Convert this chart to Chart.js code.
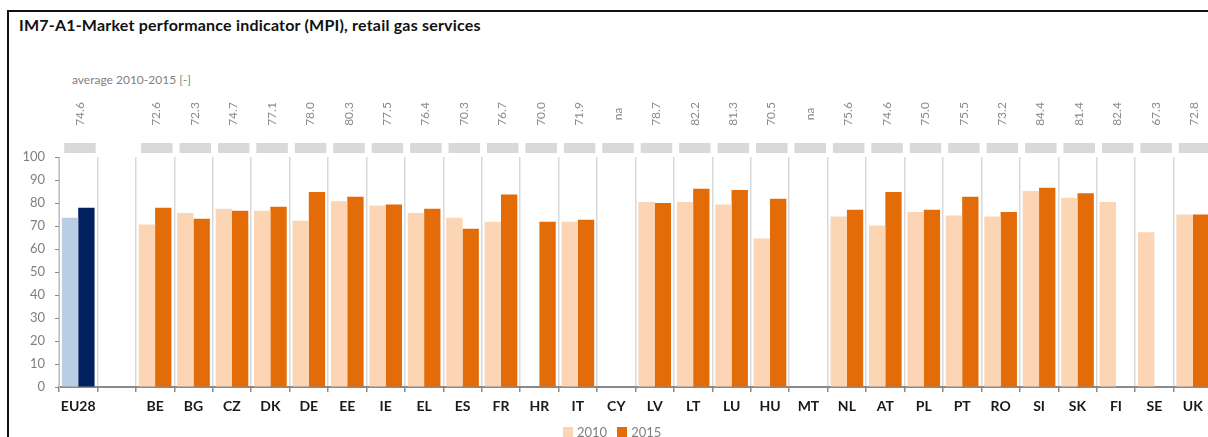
<!DOCTYPE html>
<html>
<head>
<meta charset="utf-8">
<script src="https://cdn.jsdelivr.net/npm/chart.js@4.4.1/dist/chart.umd.min.js"></script>
<style>
  html, body { margin: 0; padding: 0; background: #fff; overflow: hidden; }
  #wrap { position: relative; width: 1216px; height: 437px; }
  #frame { position: absolute; left: 7px; top: 10px; right: 0; bottom: -5px;
           border-left: 2px solid #111; border-top: 2px solid #111; }
  #title { position: absolute; left: 19px; top: 15px; font: bold 16px Lato, sans-serif; letter-spacing: 0.2px; color: #111; white-space: nowrap; }
  #avg { position: absolute; left: 72px; top: 72px; font: 12px Lato, sans-serif; color: #7f7f7f; white-space: nowrap; }
  #legend { position: absolute; left: 563px; top: 424px; font: 13px Lato, sans-serif; color: #7f7f7f; white-space: nowrap; }
  #legend span.box { display: inline-block; width: 10px; height: 10px; margin-right: 4px; }
  canvas { position: absolute; left: 0; top: 0; }
</style>
</head>
<body>
<div id="wrap">
  <div id="frame"></div>
  <div id="title">IM7-A1-Market performance indicator (MPI), retail gas services</div>
  <div id="avg">average 2010-2015 [-]</div>
  <canvas id="mpiChart" width="1216" height="437"></canvas>
  <div id="legend"><span class="box" style="background:#fcd5b5"></span>2010&nbsp;&nbsp;&nbsp;<span class="box" style="background:#e36c09"></span>2015</div>
</div>
<script>
// ---------- DATA ----------
const countries = ["EU28", "", "BE", "BG", "CZ", "DK", "DE", "EE", "IE", "EL", "ES", "FR", "HR", "IT", "CY",
  "LV", "LT", "LU", "HU", "MT", "NL", "AT", "PL", "PT", "RO", "SI", "SK", "FI", "SE", "UK"];
const mpi2010 = [73.6, null, 70.7, 75.6, 77.5, 76.6, 72.3, 80.8, 78.9, 75.6, 73.6, 71.8, null, 71.8, null,
  80.4, 80.4, 79.4, 64.6, null, 74.1, 70.2, 76.1, 74.6, 74.1, 85.2, 82.3, 80.4, 67.3, 75.0];
const mpi2015 = [77.9, null, 77.9, 73.1, 76.6, 78.4, 84.8, 82.7, 79.4, 77.5, 68.8, 83.7, 71.8, 72.7, null,
  80.0, 86.2, 85.6, 81.8, null, 77.1, 84.8, 77.1, 82.7, 76.1, 86.6, 84.2, null, null, 75.0];
const avg2010_2015 = ["74.6", "", "72.6", "72.3", "74.7", "77.1", "78.0", "80.3", "77.5", "76.4", "70.3", "76.7",
  "70.0", "71.9", "na", "78.7", "82.2", "81.3", "70.5", "na", "75.6", "74.6", "75.0", "75.5", "73.2", "84.4",
  "81.4", "82.4", "67.3", "72.8"];
const yTicks = [0, 10, 20, 30, 40, 50, 60, 70, 80, 90, 100];

// EU28 gets blue shades, countries get orange
const col2010 = countries.map(c => c === "EU28" ? "#b9cde5" : "#fcd5b5");
const col2015 = countries.map(c => c === "EU28" ? "#002060" : "#e36c09");

// ---------- AVERAGE ROW (grey boxes + rotated values) ----------
const avgRow = {
  id: "avgRow",
  afterDraw(chart) {
    const { ctx, chartArea, scales: { x } } = chart;
    ctx.save();
    avg2010_2015.forEach((v, i) => {
      if (!v) return;
      const cx = x.getPixelForValue(i);
      ctx.fillStyle = "#d9d9d9";
      ctx.fillRect(cx - 14, chartArea.top - 14, 31.5, 10);
      ctx.save();
      ctx.translate(cx + 1.5, chartArea.top - 43);
      ctx.rotate(-Math.PI / 2);
      ctx.fillStyle = "#8a8a8a";
      ctx.font = "12px Lato";
      ctx.textAlign = "center";
      ctx.textBaseline = "middle";
      ctx.fillText(v, 0, 0);
      ctx.restore();
    });
    ctx.restore();
  }
};

new Chart(document.getElementById("mpiChart"), {
  type: "bar",
  data: {
    labels: countries,
    datasets: [
      { label: "2010", data: mpi2010, backgroundColor: col2010 },
      { label: "2015", data: mpi2015, backgroundColor: col2015 }
    ]
  },
  options: {
    responsive: false,
    animation: false,
    layout: { padding: { top: 157, left: 0, right: 4, bottom: 0 } },
    datasets: { bar: { categoryPercentage: 0.85, barPercentage: 1.0 } },
    scales: {
      x: {
        grid: { offset: true, color: "#d9d9d9", tickColor: "#8a8a8a", tickLength: 5, lineWidth: 1.5 },
        border: { color: "#8a8a8a", width: 2 },
        ticks: { color: "#1a1a1a", font: { family: "Lato", size: 14, weight: "bold" }, padding: 6, maxRotation: 0, autoSkip: false },
        afterFit(scale) { scale.height = 50; }
      },
      y: {
        min: 0, max: 100,
        afterBuildTicks(scale) { scale.ticks = yTicks.map(v => ({ value: v })); },
        grid: { drawOnChartArea: false, tickLength: 4, color: "#8a8a8a" },
        border: { color: "#bfbfbf", width: 1 },
        ticks: { color: "#7f7f7f", font: { family: "Lato", size: 13 }, padding: 10 },
        afterFit(scale) { scale.width = 59; }
      }
    },
    plugins: {
      legend: { display: false },
      tooltip: { enabled: false }
    }
  },
  plugins: [avgRow]
});
</script>
</body>
</html>
